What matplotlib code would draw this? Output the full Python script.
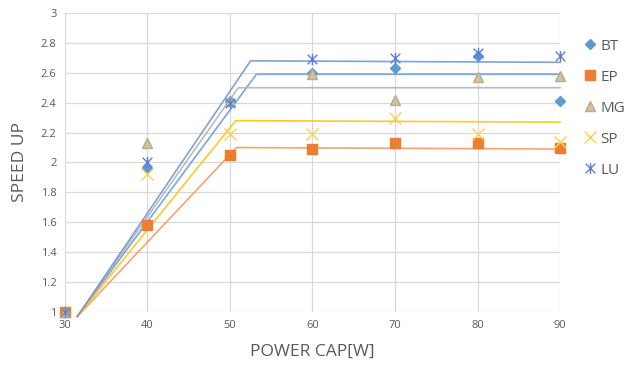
import matplotlib.pyplot as plt
from matplotlib.path import Path

power_cap = [30, 40, 50, 60, 70, 80, 90]
series_names = ['BT', 'EP', 'MG', 'SP', 'LU']

bt = [1.00, 1.96, 2.41, 2.60, 2.63, 2.71, 2.41]
ep = [1.00, 1.58, 2.05, 2.09, 2.13, 2.13, 2.10]
mg = [1.00, 2.13, 2.41, 2.59, 2.42, 2.57, 2.58]
sp = [1.00, 1.92, 2.19, 2.19, 2.30, 2.19, 2.14]
lu = [1.00, 2.00, 2.40, 2.69, 2.70, 2.73, 2.71]

# trend line knots (start, knee, end)
bt_fit_x = [31.5, 53.2, 90]
bt_fit_y = [0.97, 2.59, 2.59]
ep_fit_x = [31.5, 50.8, 90]
ep_fit_y = [0.97, 2.10, 2.09]
mg_fit_x = [31.5, 51.0, 90]
mg_fit_y = [0.97, 2.50, 2.50]
sp_fit_x = [31.5, 50.7, 90]
sp_fit_y = [0.97, 2.28, 2.27]
lu_fit_x = [31.5, 52.5, 90]
lu_fit_y = [0.97, 2.68, 2.67]

star = Path([(-1, -1), (1, 1), (-1, 1), (1, -1), (0, -1.15), (0, 1.15)],
            [Path.MOVETO, Path.LINETO, Path.MOVETO, Path.LINETO, Path.MOVETO, Path.LINETO])

styles = {
    'BT': dict(marker='D', ms=5, mec='#5B9BD5', mfc='#5B9BD5', line='#5B9BD5'),
    'EP': dict(marker='s', ms=6.5, mec='#ED7D31', mfc='#ED7D31', line='#F0965A'),
    'MG': dict(marker='^', ms=6.5, mec='#B5AB96', mfc='#D6C293', line='#B0B0B0'),
    'SP': dict(marker='x', ms=8, mec='#FFD24D', mfc='none', line='#FFC000'),
    'LU': dict(marker=star, ms=8, mec='#5B7FD6', mfc='none', line='#6F8FD0'),
}

values = {'BT': bt, 'EP': ep, 'MG': mg, 'SP': sp, 'LU': lu}
fits = {
    'BT': (bt_fit_x, bt_fit_y),
    'EP': (ep_fit_x, ep_fit_y),
    'MG': (mg_fit_x, mg_fit_y),
    'SP': (sp_fit_x, sp_fit_y),
    'LU': (lu_fit_x, lu_fit_y),
}

plt.rcParams['font.family'] = ['Open Sans', 'DejaVu Sans']

fig = plt.figure(figsize=(6.26, 3.67), dpi=100)
ax = fig.add_axes([0.1038, 0.1499, 0.7908, 0.8147])

for name in series_names:
    fx, fy = fits[name]
    ax.plot(fx, fy, color=styles[name]['line'], lw=1.2, alpha=0.85,
            clip_on=False, zorder=2)

handles = []
for name in series_names:
    s = styles[name]
    h, = ax.plot(power_cap, values[name], ls='none', marker=s['marker'],
                 ms=s['ms'], mfc=s['mfc'], mec=s['mec'], mew=1.0,
                 clip_on=False, zorder=3, label=name)
    handles.append(h)

ax.set_xlim(30, 90)
ax.set_ylim(1, 3)
ax.set_xticks(range(30, 91, 10))
ax.set_yticks([1, 1.2, 1.4, 1.6, 1.8, 2, 2.2, 2.4, 2.6, 2.8, 3])
ax.set_yticklabels(['1', '1.2', '1.4', '1.6', '1.8', '2', '2.2', '2.4', '2.6', '2.8', '3'])
ax.grid(True, color='#D9D9D9', lw=0.9)
ax.set_axisbelow(True)
for sp_ in ax.spines.values():
    sp_.set_visible(False)
ax.tick_params(length=0, labelsize=8, colors='#595959', pad=6)

ax.set_xlabel('POWER CAP[W]', fontsize=12.5, color='#595959', labelpad=9)
ax.set_ylabel('SPEED UP', fontsize=12.5, color='#595959', labelpad=9)

fig.legend(handles=handles, loc='upper left', bbox_to_anchor=(0.935, 0.895),
           frameon=False, fontsize=11, labelcolor='#595959',
           handlelength=0.6, handletextpad=0.4, labelspacing=1.05,
           borderaxespad=0, borderpad=0)

fig.savefig('out.png', dpi=100)
